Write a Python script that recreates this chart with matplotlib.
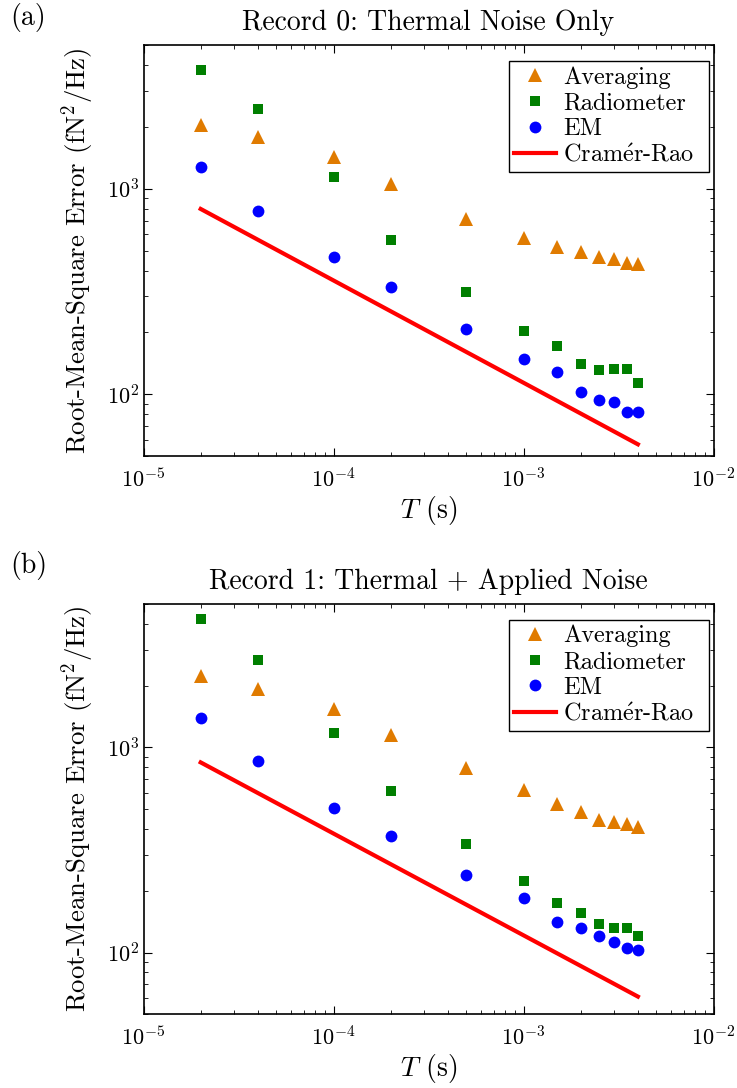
import matplotlib
matplotlib.use("Agg")
import matplotlib.pyplot as plt
from matplotlib.ticker import LogLocator, NullFormatter

plt.rcParams['font.family'] = ['cmr10', 'DejaVu Serif']
plt.rcParams['mathtext.fontset'] = 'cm'
plt.rcParams['axes.formatter.use_mathtext'] = True
plt.rcParams['axes.unicode_minus'] = False

# Data
T = [2e-5, 4e-5, 1e-4, 2e-4, 5e-4, 1e-3, 1.5e-3, 2e-3, 2.5e-3, 3e-3, 3.5e-3, 4e-3]
T_crb = [2e-5, 4e-3]

avg_0 = [2037, 1786, 1433, 1053, 713, 577, 519, 490, 465, 456, 433, 429]
rad_0 = [3796, 2448, 1148, 565, 316, 203, 171, 140, 131.6, 133, 132, 113]
em_0 = [1275, 783, 467, 332, 208, 148, 128, 103, 93.5, 91.7, 81.5, 81.5]
crb_0 = [798, 57]

avg_1 = [2223, 1923, 1537, 1148, 790, 618, 527, 486, 442, 431, 425, 409]
rad_1 = [4217, 2673, 1178, 612, 339, 223, 175, 156, 138, 131, 132, 120.5]
em_1 = [1389, 855, 508, 371, 240, 184, 141, 132, 120, 113, 105, 103]
crb_1 = [845, 61]

titles = ["Record 0: Thermal Noise Only", "Record 1: Thermal + Applied Noise"]
panel_labels = ["(a)", "(b)"]
series_labels = ["Averaging", "Radiometer", "EM", r"Cram$\acute{\mathrm{e}}$r-Rao"]

W, H = 737, 1088
fig = plt.figure(figsize=(W / 100, H / 100), dpi=100)

def axes_rect(left, top, right, bottom):
    return [left / W, 1 - bottom / H, (right - left) / W, (bottom - top) / H]

rects = [axes_rect(143.5, 45.3, 713.5, 456), axes_rect(143.5, 604, 713.5, 1014.3)]
data = [(avg_0, rad_0, em_0, crb_0), (avg_1, rad_1, em_1, crb_1)]
label_y = [18, 566]

fs_tick = 16
fs_lab = 20
for i in range(2):
    ax = fig.add_axes(rects[i])
    avg, rad, em, crb = data[i]
    ax.plot(T, avg, linestyle='none', marker='^', color='#E07B00', markersize=9.5,
            markeredgewidth=0, label=series_labels[0])
    ax.plot(T, rad, linestyle='none', marker='s', color='#007F00', markersize=6.5,
            markeredgewidth=0, label=series_labels[1])
    ax.plot(T, em, linestyle='none', marker='o', color='#0000FF', markersize=8.5,
            markeredgewidth=0, label=series_labels[2])
    ax.plot(T_crb, crb, color='#FF0000', linewidth=3, label=series_labels[3])
    ax.set_xscale('log')
    ax.set_yscale('log')
    ax.set_xlim(1e-5, 1e-2)
    ax.set_ylim(50, 5000)
    ax.xaxis.set_major_locator(LogLocator(base=10, numticks=10))
    ax.yaxis.set_major_locator(LogLocator(base=10, numticks=10))
    ax.xaxis.set_minor_locator(LogLocator(base=10, subs=range(2, 10), numticks=20))
    ax.yaxis.set_minor_locator(LogLocator(base=10, subs=range(2, 10), numticks=20))
    ax.yaxis.set_minor_formatter(NullFormatter())
    ax.xaxis.set_minor_formatter(NullFormatter())
    ax.tick_params(which='both', direction='in', top=True, right=True, labelsize=fs_tick)
    ax.tick_params(which='major', length=6, width=0.8)
    ax.tick_params(which='minor', length=3, width=0.6)
    ax.tick_params(axis='x', which='major', pad=8)
    ax.tick_params(axis='y', which='major', pad=3)
    for s in ax.spines.values():
        s.set_linewidth(1.2)
    ax.set_xlabel(r"$T$ (s)", fontsize=fs_lab, labelpad=2)
    ax.set_ylabel(r"Root-Mean-Square Error (fN$^2$/Hz)", fontsize=19.3, labelpad=8)
    ax.set_title(titles[i], fontsize=fs_lab, pad=11)
    leg = ax.legend(loc='upper left', bbox_to_anchor=(0.641, 0.962, 0.351, 0.0),
                    mode='expand', borderaxespad=0,
                    fontsize=17.5, fancybox=False, edgecolor='black', framealpha=1,
                    handlelength=1.7, handletextpad=0.3, borderpad=0.22, labelspacing=0.15)
    leg.get_frame().set_linewidth(1.0)
    fig.text(10 / W, 1 - label_y[i] / H, panel_labels[i], fontsize=fs_lab, va='center', ha='left')

fig.savefig("out.png", dpi=100)
